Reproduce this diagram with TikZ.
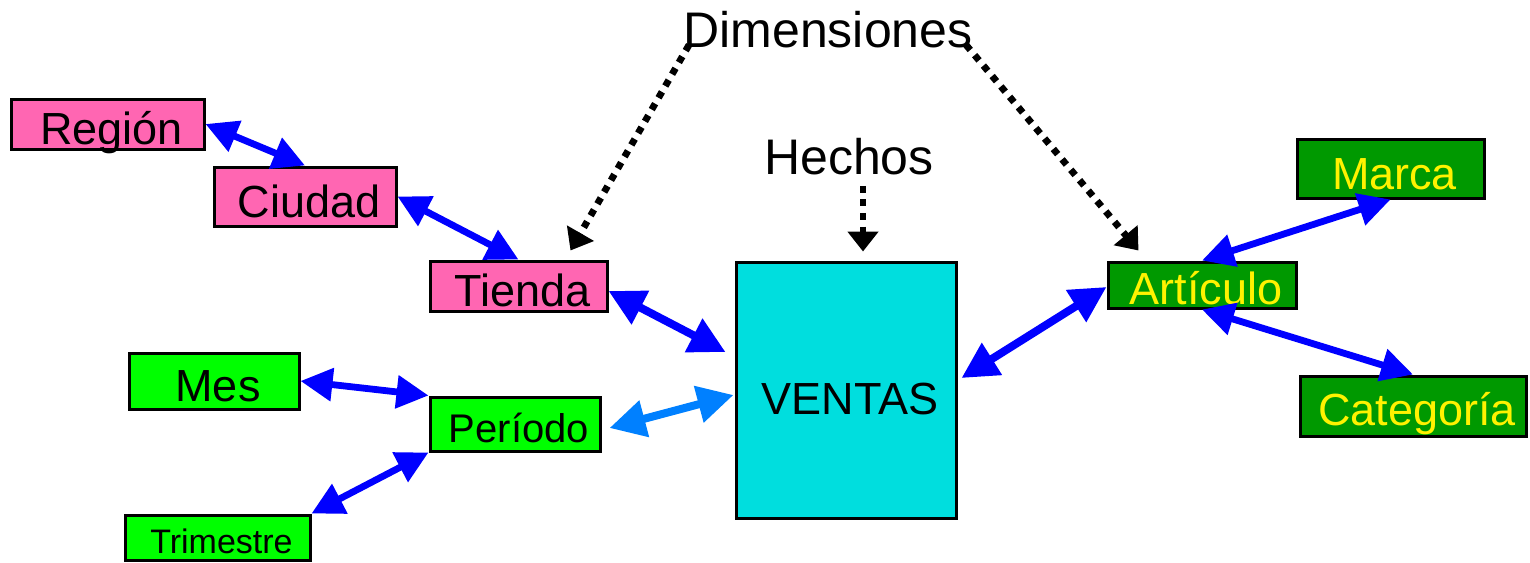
\documentclass[tikz,border=0pt]{standalone}
\usepackage{fontspec}
\setmainfont{Liberation Sans}
\usetikzlibrary{arrows.meta, positioning}

\definecolor{rosa}{RGB}{255,102,178}
\definecolor{verde}{RGB}{0,255,0}
\definecolor{verdeosc}{RGB}{0,153,0}
\definecolor{cian}{RGB}{0,222,222}
\definecolor{celeste}{RGB}{0,128,255}

\begin{document}
\begin{tikzpicture}
  [x=0.5pt, y=-0.5pt,
   tabla/.style = {draw, line width=1.5pt, inner sep=0pt,
     text height=20.7pt, text depth=0pt,
     execute at begin node=\hspace*{4pt},
     font=\fontsize{22.5}{24}\selectfont},
   lugar/.style    = {tabla, fill=rosa},
   tiempo/.style   = {tabla, fill=verde},
   producto/.style = {tabla, fill=verdeosc, text=yellow},
   punta/.style    = {{Triangle[length=#1,width=#1]}-{Triangle[length=#1,width=#1]}},
   nivel/.style    = {draw=blue, line width=3.4pt, punta=16pt},
   hecho/.style    = {line width=4pt, punta=18pt},
   nota/.style     = {draw=black, line width=3.4pt,
     dash pattern=on 3.4pt off 3.4pt, -{Triangle[length=10pt,width=15pt]}}]

  \useasboundingbox (0,0) rectangle (1530,562);

  % dimension tienda
  \node[lugar, minimum width=96.5pt, minimum height=25pt]   (region)  at (107.5,124) {Región};
  \node[lugar, minimum width=91pt, minimum height=29.5pt]   (ciudad)  at (305,196.5) {Ciudad};
  \node[lugar, minimum width=88.5pt, minimum height=25pt]   (tienda)  at (518.5,286) {Tienda};

  % dimension tiempo
  \node[tiempo, minimum width=85pt, minimum height=28pt]    (mes)     at (214,381)   {Mes};
  \node[tiempo, minimum width=85pt, minimum height=27pt, text height=18.4pt,
    font=\fontsize{20}{22}\selectfont]                      (periodo) at (515,424)   {Período};
  \node[tiempo, minimum width=92.5pt, minimum height=22.5pt, text height=15.6pt,
    font=\fontsize{17}{19}\selectfont]                      (trimestre) at (217.5,537.5) {Trimestre};

  % dimension articulo
  \node[producto, minimum width=94pt, minimum height=23pt, text height=19pt] (articulo) at (1202,285) {Artículo};
  \node[producto, minimum width=93.5pt, minimum height=29.5pt] (marca)  at (1390.5,168.5) {Marca};
  \node[producto, minimum width=113pt, minimum height=30pt, text height=19pt] (categoria) at (1413,406) {Categoría};

  % tabla de hechos
  \node[tabla, fill=cian, minimum width=110pt, minimum height=128pt,
    text height=24pt]                                       (ventas)  at (846,390)   {VENTAS};

  \node[font=\fontsize{25}{27}\selectfont, inner sep=0pt]   (dim)     at (828,30)    {Dimensiones};
  \node[font=\fontsize{25}{27}\selectfont, inner sep=0pt]   (hechos)  at (849,157)   {Hechos};

  % jerarquias
  \draw[nivel] (region.east) -- (ciudad.north);
  \draw[nivel] (ciudad.east) -- (tienda.north);
  \draw[nivel] (mes.east) -- (periodo.north west);
  \draw[nivel] (trimestre.north east) -- (periodo.south west);
  \draw[nivel] (articulo.north) -- (marca.south);
  \draw[nivel] (articulo.south) -- (categoria.north);

  % enlaces con la tabla de hechos
  \draw[hecho, draw=blue] ([shift={(0,5)}]tienda.east) -- ([shift={(-9,-38)}]ventas.west);
  \draw[hecho, draw=celeste] ([shift={(8,4)}]periodo.east) -- ([shift={(-1,5)}]ventas.west);
  \draw[hecho, draw=blue] ([shift={(4,-12)}]ventas.east) -- ([shift={(0,2)}]articulo.west);

  % notas
  \draw[nota] ([shift={(6,-4)}]dim.south west) -- ([shift={(52,-9)}]tienda.north);
  \draw[nota] ([shift={(-7,-4)}]dim.south east) -- ([shift={(32,-10)}]articulo.north west);
  \draw[nota] ([shift={(14,10)}]hechos.south) -- ([shift={(17,-9)}]ventas.north);
\end{tikzpicture}
\end{document}
